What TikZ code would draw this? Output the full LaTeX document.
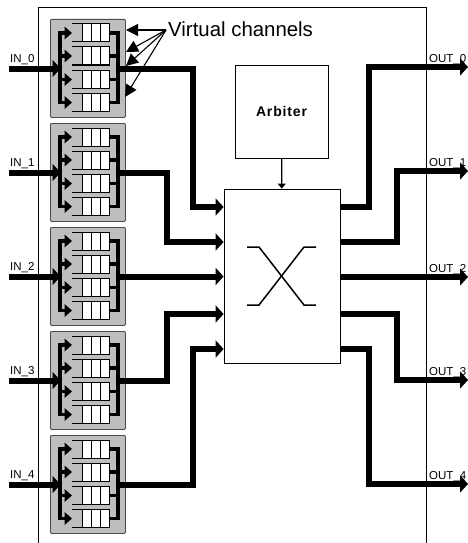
\documentclass[tikz,border=0pt]{standalone}
\usepackage{fontspec}
\setmainfont{Liberation Sans}
\usetikzlibrary{arrows.meta,positioning,calc}
\definecolor{Panel}{HTML}{BEBEBE}

\begin{document}
\begin{tikzpicture}[
  x=1pt,y=-1pt,
  panel/.style={rounded corners=1pt,draw=black!70,fill=Panel,line width=0.8pt,minimum width=75pt,minimum height=98pt,inner sep=0pt},
  slot/.style={draw=black,fill=white,line width=1pt,minimum width=9.2pt,minimum height=18pt,inner sep=0pt},
  box/.style={draw=black,fill=white,line width=0.8pt,inner sep=0pt},
  lbl/.style={font=\fontsize{11.5}{13}\selectfont,inner sep=0pt,anchor=base west},
  bus/.style={line width=6pt,-{Triangle[length=8pt,width=17pt]}},
  feed/.style={line width=3.6pt,-{Triangle[length=7.5pt,width=12.5pt]}},
  collect/.style={line width=3.6pt},
  note/.style={line width=1.1pt,-{Triangle[length=12pt,width=12pt]}}
]
\useasboundingbox (0,0) rectangle (468,543);

% router outline
\coordinate (frameA) at (38,543);
\coordinate (frameB) at (38,7);
\coordinate (frameC) at (426,7);
\coordinate (frameD) at (426,543);
\draw[line width=0.9pt] (frameA) -- (frameB) -- (frameC) -- (frameD);

\node[box,minimum width=93pt,minimum height=93pt] (arbiter) at (281.5,111.5) {\fontsize{14}{16}\selectfont\bfseries\addfontfeature{LetterSpace=6}Arbiter};
\node[box,minimum width=116pt,minimum height=174pt] (xbar) at (282,276) {};
\draw[line width=1.2pt,-{Triangle[length=5pt,width=8pt]}] (arbiter) -- (xbar);

% crossing symbol
\coordinate (xa) at (247,247);
\coordinate (xb) at (259,247);
\coordinate (xc) at (304,305);
\coordinate (xd) at (316,305);
\coordinate (xe) at (247,305);
\coordinate (xf) at (259,305);
\coordinate (xg) at (304,247);
\coordinate (xh) at (316,247);
\draw[line width=1.5pt] (xa) -- (xb) -- (xc) -- (xd);
\draw[line width=1.5pt] (xe) -- (xf) -- (xg) -- (xh);

% input channels
\foreach \n/\top in {0/19,1/123,2/227,3/331,4/435}{
  \node[panel,anchor=north west] (vc\n) at (50,\top) {};
  \coordinate (in\n) at (9,\top+49.5);
  \coordinate (hub\n) at (60.5,\top+49.5);
  \coordinate (tap\n) at (118,\top+49.5);
  \foreach \k/\dy in {0/14,1/37,2/60.5,3/83.5}{
    \coordinate (q\n\k) at (72,\top+\dy);
    \coordinate (b\n\k) at (60,\top+\dy);
    \coordinate (c\n\k) at (118,\top+\dy);
    \node[slot] (s\n\k a) at (86.6,\top+\dy) {};
    \node[slot,right=-1pt of s\n\k a] (s\n\k b) {};
    \node[slot,right=-1pt of s\n\k b] (s\n\k c) {};
    \draw[line width=1pt] (q\n\k) ++(0,-9) -- ++(36,0);
    \draw[line width=1pt] (q\n\k) ++(0,9) -- ++(36,0);
    \draw[feed] (b\n\k) -- (q\n\k);
    \draw[collect] (s\n\k c.east) -- (c\n\k);
  }
  \draw[collect,line cap=rect] (b\n0) -- (b\n3);
  \draw[collect,line cap=rect] (c\n0) -- (c\n3);
  \draw[bus] (in\n) -- (hub\n);
  \node[lbl] (inlbl\n) at (10,\top+43.5) {IN\_\n};
}

% links into the crossbar
\foreach \n/\bend/\py in {0/193/207,1/167/242,2/0/277,3/167/314,4/193/349}{
  \coordinate (port\n) at ($(xbar.west)+(0,\py-276)$);
  \ifnum\bend=0
    \draw[bus] (tap\n) -- (tap\n-|port\n);
  \else
    \draw[bus] (tap\n) -| ($(port\n)+(\bend-224,0)$) -- (port\n);
  \fi
}

% links out of the crossbar
\foreach \n/\bend/\py/\oy in {0/369/207/67,1/397/242/171,2/0/277/277,3/397/314/380,4/369/349/484}{
  \coordinate (src\n) at ($(xbar.east)+(0,\py-276)$);
  \coordinate (dst\n) at (468,\oy);
  \ifnum\bend=0
    \draw[bus] (src\n) -- (dst\n);
  \else
    \draw[bus] (src\n) -| ($(dst\n)+(\bend-468,0)$) -- (dst\n);
  \fi
  \node[lbl] (outlbl\n) at (429,\oy-4.5) {OUT\_\n};
}

% callout
\node[font=\fontsize{20.4}{24}\selectfont,inner sep=0pt,anchor=base west] (vclbl) at (168,37) {Virtual channels};
\coordinate (vcnote) at (166,30);
\coordinate (na) at (126,30);
\coordinate (nb) at (126,52);
\coordinate (nc) at (126,66);
\coordinate (nd) at (125,97);
\foreach \t in {na,nb,nc,nd}
  \draw[note] (vcnote) -- (\t);
\end{tikzpicture}
\end{document}
